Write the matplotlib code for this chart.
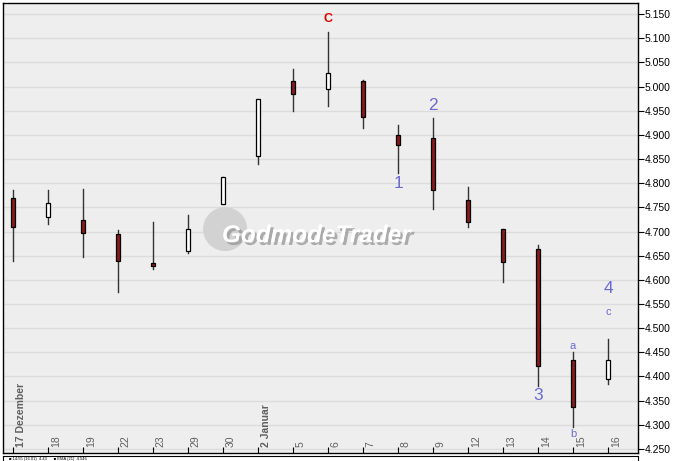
import matplotlib
matplotlib.use("Agg")
import matplotlib.pyplot as plt
import matplotlib.patheffects as pe
from matplotlib.patches import Rectangle, Ellipse

# Tageskerzen 17. Dezember bis 16. Januar
dates = ["17 Dezember", "18", "19", "22", "23", "29", "30", "2 Januar", "5", "6",
         "7", "8", "9", "12", "13", "14", "15", "16"]
opens = [4.770, 4.730, 4.7235, 4.694, 4.634, 4.660, 4.756, 4.857, 5.011, 4.994,
         5.011, 4.900, 4.893, 4.766, 4.706, 4.663, 4.435, 4.395]
highs = [4.786, 4.786, 4.788, 4.703, 4.719, 4.734, 4.812, 4.975, 5.036, 5.112,
         5.013, 4.920, 4.934, 4.793, 4.706, 4.672, 4.451, 4.477]
lows = [4.639, 4.715, 4.648, 4.574, 4.622, 4.656, 4.756, 4.839, 4.950, 4.960,
        4.915, 4.821, 4.746, 4.710, 4.596, 4.380, 4.296, 4.384]
closes = [4.710, 4.758, 4.697, 4.639, 4.628, 4.706, 4.812, 4.974, 4.985, 5.027,
          4.937, 4.879, 4.785, 4.720, 4.637, 4.422, 4.337, 4.434]

# Wellenzaehlung
wave_labels = ["1", "2", "3", "4"]
wave_x = [11, 12, 15, 17]
wave_y = [4.800, 4.960, 4.361, 4.583]
sub_labels = ["a", "b", "c"]
sub_x = [16, 16, 17]
sub_y = [4.463, 4.280, 4.533]

yticks = [4.25, 4.30, 4.35, 4.40, 4.45, 4.50, 4.55, 4.60, 4.65, 4.70, 4.75,
          4.80, 4.85, 4.90, 4.95, 5.00, 5.05, 5.10, 5.15]

W, H = 676, 461
fig = plt.figure(figsize=(W / 100, H / 100), dpi=100)
fig.patch.set_facecolor("white")
ax = fig.add_axes([3 / W, (H - 453) / H, 635 / W, 450 / H])
ax.set_facecolor("#eeeeee")

ax.set_xlim(-0.286, 17.857)
ax.set_ylim(4.2417, 5.1728)

for y in yticks:
    ax.axhline(y, color="#dcdcdc", lw=1, zorder=0)

# Logo im Hintergrund
ax.add_patch(Ellipse((6.06, 4.705), 1.26, 0.091, facecolor="#d2d2d2",
                     edgecolor="none", zorder=1))
ax.text(5.97, 4.678, "GodmodeTrader", fontsize=17.5, fontweight="bold",
        style="italic", color="white", zorder=1, family="Liberation Sans",
        path_effects=[pe.withSimplePatchShadow(offset=(2, -2), shadow_rgbFace="#9a9a9a", alpha=0.8)])

bw = 0.11
for i in range(len(dates)):
    o, h, l, c = opens[i], highs[i], lows[i], closes[i]
    ax.plot([i, i], [l, h], color="#333333", lw=1, zorder=2)
    fc = "white" if c >= o else "#8b1a1a"
    ax.add_patch(Rectangle((i - bw / 2, min(o, c)), bw, abs(c - o),
                           facecolor=fc, edgecolor="black", lw=0.9, zorder=3))

ax.text(9, 5.140, "C", color="#e00000", fontsize=9, fontweight="bold",
        ha="center", va="center", family="Liberation Sans")
for t, x, y in zip(wave_labels, wave_x, wave_y):
    ax.text(x, y, t, color="#6a6ad0", fontsize=12.5, ha="center", va="center",
            family="Liberation Sans")
for t, x, y in zip(sub_labels, sub_x, sub_y):
    ax.text(x, y, t, color="#6a6ad0", fontsize=8, ha="center", va="center",
            family="Liberation Sans")

# X-Beschriftung innen
ax.set_xticks(range(len(dates)))
ax.set_xticklabels([])
ax.tick_params(axis="x", direction="in", length=4, color="black")
for i, d in enumerate(dates):
    bold = not d.isdigit()
    ax.text(i + 0.22, 4.2535, d, rotation=90, ha="center", va="bottom",
            fontsize=7.5, color="#606060", family="Liberation Sans",
            fontweight="bold" if bold else "normal")

ax.yaxis.tick_right()
ax.set_yticks(yticks)
ax.set_yticklabels([f"{v:.3f}" for v in yticks], fontsize=7.5,
                   family="Liberation Sans")
ax.tick_params(axis="y", direction="out", length=4, pad=1)
for s in ax.spines.values():
    s.set_color("black")
    s.set_linewidth(1)

# Legendenleiste unten
lax = fig.add_axes([3 / W, 0, 635 / W, (H - 456) / H])
lax.set_xticks([])
lax.set_yticks([])
lax.set_facecolor("white")
lax.spines["bottom"].set_visible(False)
lax.text(0.01, 0.45, "\u25a0 14:55 (16.01)  4.43      \u25a0 EMA (21)  4.546",
         transform=lax.transAxes, fontsize=3, va="center", family="Liberation Sans")

fig.savefig("out.png", dpi=100)
